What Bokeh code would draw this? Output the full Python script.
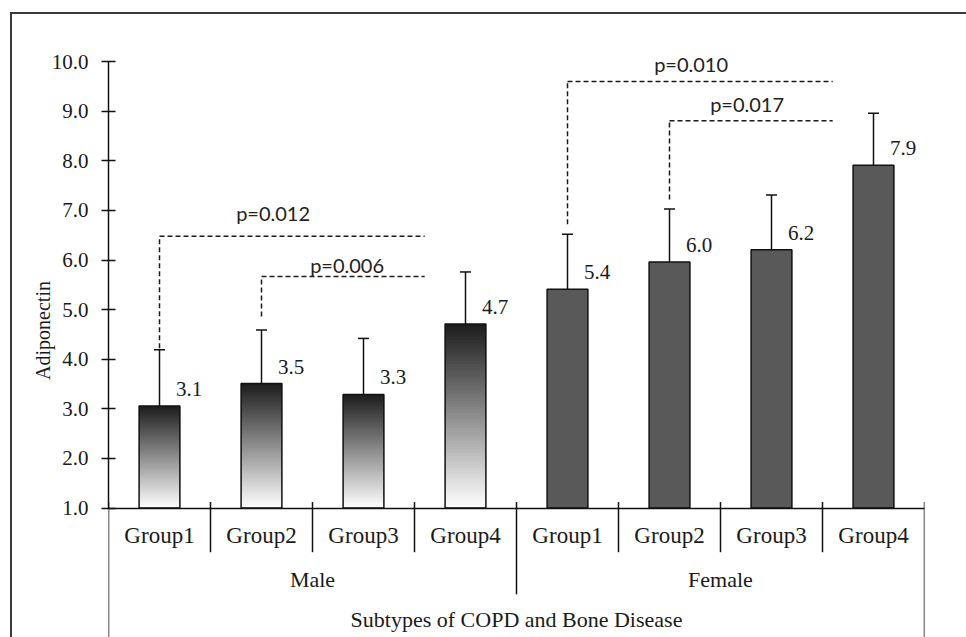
from bokeh.plotting import figure
from bokeh.models import (FactorRange, Range1d, CategoricalAxis, LinearAxis, FixedTicker,
                          ColumnDataSource, Whisker, TeeHead, PrintfTickFormatter)
from bokeh.core.properties import value
from bokeh.embed import file_html
from bokeh.resources import INLINE

# ---------------- data ----------------
sexes = ["Male", "Female"]
groups = ["Group1", "Group2", "Group3", "Group4"]
male_means = [3.06, 3.51, 3.29, 4.71]
female_means = [5.41, 5.96, 6.21, 7.91]
male_sd = [1.13, 1.08, 1.13, 1.05]
female_sd = [1.11, 1.07, 1.10, 1.05]
y_ticks = [1.0, 2.0, 3.0, 4.0, 5.0, 6.0, 7.0, 8.0, 9.0, 10.0]
y_label = "Adiponectin"
x_label = "Subtypes of COPD and Bone Disease"

bracket_sex = ["Male", "Male", "Female", "Female"]
bracket_from = ["Group1", "Group2", "Group1", "Group2"]
bracket_to = ["Group4", "Group4", "Group4", "Group4"]
bracket_level = [6.48, 5.67, 9.60, 8.81]
bracket_drop = [4.22, 4.86, 6.72, 7.22]
bracket_p = ["p=0.012", "p=0.006", "p=0.010", "p=0.017"]

# ---------------- style / layout ----------------
SERIF = "Liberation Serif"
SANS = "Lato"
INK = "#1a1a1a"
W, H = 954, 623
MB_L, MB_R = 96, 44
AXIS_TOP_PX = 47                      # canvas px from top to the y=10 tick
HEADROOM_PX = 40                      # frame space kept above y=10 for labels
MB_T = AXIS_TOP_PX - HEADROOM_PX
AXIS_PX = 445.0                       # pixels between y=1 and y=10
Y0, Y1 = 1.0, 10.0
u = (Y1 - Y0) / AXIS_PX               # data units per pixel
frame_h = H - MB_T
y_top = Y1 + HEADROOM_PX * u
y_bottom = y_top - frame_h * u

factors = [(s, g) for s in sexes for g in groups]
means = male_means + female_means
sds = male_sd + female_sd

p = figure(width=W, height=H,
           x_range=FactorRange(*factors, factor_padding=0, group_padding=0, range_padding=0),
           y_range=Range1d(y_bottom, y_top),
           x_axis_location=None, y_axis_location=None,
           toolbar_location=None, output_backend="svg",
           min_border_left=MB_L, min_border_right=MB_R, min_border_top=MB_T, min_border_bottom=0,
           outline_line_color=None, background_fill_color="white", border_fill_color="white")
p.xgrid.visible = False
p.ygrid.visible = False
p.styles = {"border-left": "2px solid #3a3a3a", "border-top": "2px solid #3a3a3a",
            "margin-left": "10px", "margin-top": "12px",
            "box-sizing": "content-box", "overflow": "hidden"}

# y axis
yaxis = LinearAxis(ticker=FixedTicker(ticks=y_ticks), formatter=PrintfTickFormatter(format="%.1f"),
                   bounds=(Y0, Y1), axis_label=y_label,
                   major_tick_in=7, major_tick_out=7, minor_tick_line_color=None,
                   axis_line_color="#111111", axis_line_width=1.5,
                   major_tick_line_color="#111111", major_tick_line_width=1.5,
                   major_label_standoff=13,
                   major_label_text_font=SERIF, major_label_text_font_size="21px",
                   major_label_text_color=INK,
                   axis_label_text_font=SERIF, axis_label_text_font_size="20px",
                   axis_label_text_font_style="normal", axis_label_text_color=INK,
                   axis_label_standoff=-5)
p.add_layout(yaxis, "left")

# x axis (categorical, sitting on y = 1)
xaxis = CategoricalAxis(fixed_location=Y0, axis_label=x_label,
                        axis_line_color="#111111", axis_line_width=1.5,
                        major_tick_line_color=None, minor_tick_line_color=None,
                        separator_line_color=None, group_text_color=None,
                        major_label_standoff=9,
                        major_label_text_font=SERIF, major_label_text_font_size="23px",
                        major_label_text_color=INK,
                        axis_label_text_font=SERIF, axis_label_text_font_size="22px",
                        axis_label_text_font_style="normal", axis_label_text_color=INK,
                        axis_label_standoff=55)
p.add_layout(xaxis, "below")

# male bars: vertical gradient (dark top -> white bottom)
N = 60
gx, gb, gt, gc = [], [], [], []
for g, v in zip(groups, male_means):
    for k in range(N):
        gx.append(("Male", g))
        gb.append(Y0 + (v - Y0) * k / N)
        gt.append(v)
        f = (k + 0.5) / N
        shade = int(round(255 - (255 - 28) * f))
        gc.append("#%02x%02x%02x" % (shade, shade, shade))
p.vbar(x=gx, bottom=gb, top=gt, width=0.4, fill_color=gc, line_color=None)
p.vbar(x=[("Male", g) for g in groups], bottom=Y0, top=male_means, width=0.4,
       fill_color=None, line_color="#111111", line_width=1.5)

# female bars
p.vbar(x=[("Female", g) for g in groups], bottom=Y0, top=female_means, width=0.4,
       fill_color="#595959", line_color="#111111", line_width=1.5)

# error bars
wsrc = ColumnDataSource(dict(base=factors,
                             upper=[m + s for m, s in zip(means, sds)],
                             lower=[m - s for m, s in zip(means, sds)]))
p.add_layout(Whisker(source=wsrc, base="base", upper="upper", lower="lower", dimension="height",
                     line_color="#111111", line_width=1.5,
                     upper_head=TeeHead(size=11, line_color="#111111", line_width=1.5),
                     lower_head=TeeHead(size=11, line_color="#111111", line_width=1.5)))

# value labels
p.text(x=[(s, g, 0.29) for s, g in factors], y=means, text=["%.1f" % m for m in means],
       y_offset=-17, text_align="center", text_baseline="middle",
       text_font=value(SERIF), text_font_size="21px", text_color=INK)

# significance brackets
gi = {g: i for i, g in enumerate(groups)}
bx0 = [(s, a) for s, a in zip(bracket_sex, bracket_from)]
bx1 = [(s, b, -0.4) for s, b in zip(bracket_sex, bracket_to)]
p.segment(x0=bx0, y0=bracket_drop, x1=bx0, y1=bracket_level,
          line_color=INK, line_width=1.5, line_dash="5 3")
p.segment(x0=bx0, y0=bracket_level, x1=bx1, y1=bracket_level,
          line_color=INK, line_width=1.5, line_dash="5 3")
label_dx = [-19, 4, -9, -4]
label_dy = [23, 11, 17, 17]
lsrc = ColumnDataSource(dict(
    x=[(s, a, (gi[b] - gi[a] - 0.4) / 2) for s, a, b in zip(bracket_sex, bracket_from, bracket_to)],
    y=bracket_level, text=bracket_p, dx=label_dx, dy=[-d for d in label_dy]))
p.text(x="x", y="y", text="text", x_offset="dx", y_offset="dy", source=lsrc,
       text_align="center", text_baseline="alphabetic",
       text_font=value(SANS), text_font_size="20px", text_color="#222222")

# category separators below the axis
sx, sy0, sy1 = [], [], []
n = len(factors)
for j in range(n + 1):
    if j < n:
        xj = factors[j] + (-0.5,)
    else:
        xj = factors[-1] + (0.5,)
    if j == 0 or j == n:
        low = y_bottom
    elif j == len(groups):
        low = Y0 - 86 * u
    else:
        low = Y0 - 44 * u
    sx.append(xj)
    sy0.append(Y0 + 6 * u)
    sy1.append(low)
p.segment(x0=sx, y0=sy0, x1=sx, y1=sy1, line_color="#111111", line_width=1.5)

# top-level group labels
p.text(x=sexes, y=[Y0, Y0], text=sexes, y_offset=71, text_align="center", text_baseline="middle",
       text_font=value(SERIF), text_font_size="22px", text_color=INK)

open("out.html", "w").write(file_html(p, INLINE))
